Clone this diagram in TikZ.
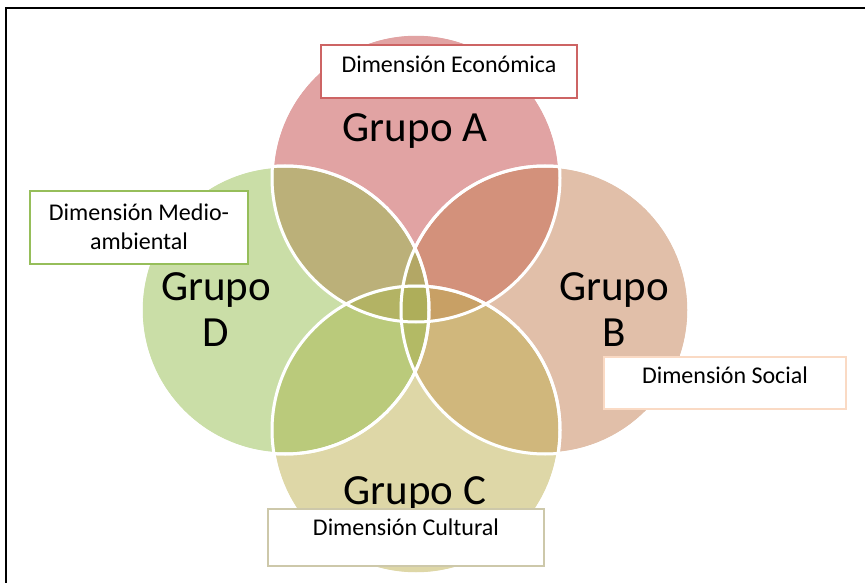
\documentclass[tikz,border=0pt]{standalone}
\usepackage{fontspec}
\setmainfont{Carlito}
\usetikzlibrary{positioning}

\definecolor{rojoA}{RGB}{196,72,72}
\definecolor{tanB}{RGB}{196,128,84}
\definecolor{caquiC}{RGB}{190,176,80}
\definecolor{verdeD}{RGB}{150,190,80}
\definecolor{bordeA}{RGB}{205,100,100}
\definecolor{bordeB}{RGB}{250,218,196}
\definecolor{bordeC}{RGB}{205,200,170}
\definecolor{bordeD}{RGB}{150,190,90}

\begin{document}
\begin{tikzpicture}[x=1pt, y=-1pt,
	grupo/.style	={circle, minimum size=288, inner sep=0, draw=white, line width=3, fill opacity=0.5},
	nombre/.style	={anchor=base, align=center, font=\fontsize{43}{44}\selectfont},
	caja/.style		={draw, fill=white, line width=1.2, inner sep=0},
	dimtexto/.style	={anchor=base, align=center, font=\fontsize{24}{29}\selectfont}]
	\useasboundingbox (0,0) rectangle (865,583);

	% marco
	\draw[line width=2.2] (6,583) -- (6,8) -- (865,8);

	% circulos
	\node[grupo, fill=rojoA] 	(A) at (416,178) {};
	\node[grupo, fill=tanB] 	(B) at (545,310) {};
	\node[grupo, fill=caquiC] 	(C) at (416,430) {};
	\node[grupo, fill=verdeD] 	(D) at (285,310) {};
	% bordes blancos encima
	\foreach \g in {A,B,C,D}
		\draw[white, line width=3] (\g) circle (144);

	% nombres
	\node[nombre] (nA) at (415,142) {Grupo A};
	\node[nombre] (nB) at (614,346) {Grupo\\[2pt]B};
	\node[nombre] (nC) at (415,504) {Grupo C};
	\node[nombre] (nD) at (216,346) {Grupo\\[2pt]D};

	% cajas
	\node[caja, draw=bordeA, minimum width=256, minimum height=53] 	(econ) 	at (449,71.5) 	{};
	\node[caja, draw=bordeD, minimum width=218, minimum height=73] 	(medio) at (139,227.5) 	{};
	\node[caja, draw=bordeB, minimum width=242, minimum height=52] 	(social) at (725,383) 	{};
	\node[caja, draw=bordeC, minimum width=276, minimum height=57] 	(cult) 	at (406,537.5) 	{};

	\node[dimtexto] (tEcon) 	at ([yshift=-28pt]econ.north) 	{Dimensión Económica};
	\node[dimtexto] (tMedio) 	at ([yshift=-59pt]medio.north) 	{Dimensión Medio-\\ambiental};
	\node[dimtexto] (tSocial) 	at ([yshift=-27pt]social.north) {Dimensión Social};
	\node[dimtexto] (tCult) 	at ([yshift=-27pt]cult.north) 	{Dimensión Cultural};
\end{tikzpicture}
\end{document}
